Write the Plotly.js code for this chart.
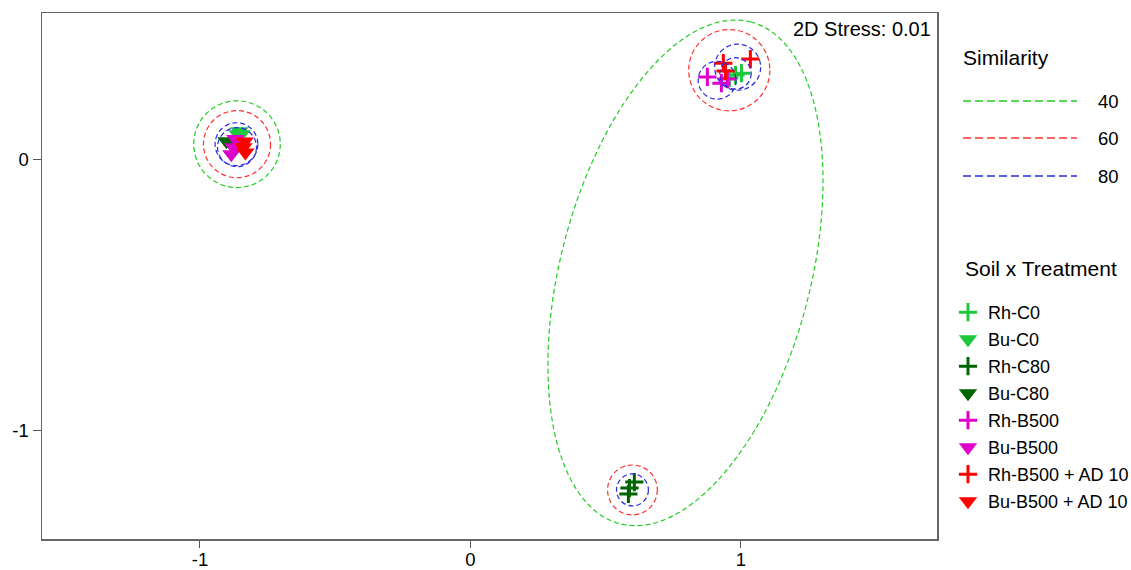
<!DOCTYPE html>
<html>
<head>
<meta charset="utf-8">
<script src="https://cdn.plot.ly/plotly-3.0.1.min.js"></script>
<style>html,body{margin:0;padding:0;background:#fff;}#chart{width:1131px;height:570px;}</style>
</head>
<body>
<div id="chart"></div>
<script>
// ---- data: NMDS coordinates per group ----
const groupNames = ["Rh-C0","Bu-C0","Rh-C80","Bu-C80","Rh-B500","Bu-B500","Rh-B500 + AD 10","Bu-B500 + AD 10"];
const groupColors = ["#1ec83c","#1ec83c","#006400","#006400","#dd00cc","#dd00cc","#ff0000","#ff0000"];
const groupSymbols = ["cross-thin","triangle-down","cross-thin","triangle-down","cross-thin","triangle-down","cross-thin","triangle-down"];

const rhC0_x = [1.002, 0.957, 0.980];
const rhC0_y = [0.317, 0.299, 0.310];
const buC0_x = [-0.854, -0.861, -0.847];
const buC0_y = [0.103, 0.092, 0.092];
const rhC80_x = [0.606, 0.588, 0.584];
const rhC80_y = [-1.192, -1.214, -1.236];
const buC80_x = [-0.902, -0.880, -0.865];
const buC80_y = [0.066, 0.059, 0.048];
const rhB500_x = [0.876, 0.928, 0.950];
const rhB500_y = [0.303, 0.280, 0.295];
const buB500_x = [-0.869, -0.884, -0.876];
const buB500_y = [0.074, 0.018, 0.044];
const rhAD_x = [1.035, 0.935, 0.943];
const rhAD_y = [0.369, 0.354, 0.325];
const buAD_x = [-0.835, -0.832, -0.839];
const buAD_y = [0.065, 0.024, 0.044];

const groupX = [rhC0_x, buC0_x, rhC80_x, buC80_x, rhB500_x, buB500_x, rhAD_x, buAD_x];
const groupY = [rhC0_y, buC0_y, rhC80_y, buC80_y, rhB500_y, buB500_y, rhAD_y, buAD_y];

// ---- similarity contours ----
const simLevels = [40, 60, 80];
const simColors = ["#22cc22", "#ff3030", "#2a2ae0"];
const circleLevel = [40, 60, 80, 80, 60, 80, 80, 80, 60, 80];
const circleCX = [-0.863, -0.863, -0.865, -0.863, 0.957, 0.912, 0.988, 0.980, 0.599, 0.599];
const circleCY = [0.055, 0.055, 0.055, 0.044, 0.328, 0.291, 0.339, 0.316, -1.221, -1.221];
const circleR  = [0.160, 0.124, 0.079, 0.072, 0.150, 0.070, 0.085, 0.058, 0.092, 0.059];
// enclosing 40% contour (ellipse): centre, semi-axes, rotation (deg)
const ellipseLevel = 40;
const ellipseCX = 0.795, ellipseCY = -0.420, ellipseA = 0.957, ellipseB = 0.462, ellipseAngle = 75.3;

const stressText = "2D Stress: 0.01";
const xTicks = [-1, 0, 1];
const yTicks = [0, -1];

const FONT = "'Liberation Sans', Arial, sans-serif";

const traces = groupNames.map((n, i) => {
  const isCross = groupSymbols[i] === "cross-thin";
  return {
    type: "scatter", mode: "markers", name: n, legendgroup: "g" + i,
    x: groupX[i], y: groupY[i],
    marker: isCross
      ? {symbol: "cross-thin", size: 13, color: groupColors[i], line: {color: groupColors[i], width: 3}}
      : {symbol: "triangle-down", size: 16, color: groupColors[i], line: {width: 0}},
    legend: "legend",
    hoverinfo: "x+y+name"
  };
});

function levelColor(l) { return simColors[simLevels.indexOf(l)]; }

const shapes = [];
for (let i = 0; i < circleR.length; i++) {
  shapes.push({
    type: "circle", xref: "x", yref: "y",
    x0: circleCX[i] - circleR[i], x1: circleCX[i] + circleR[i],
    y0: circleCY[i] - circleR[i], y1: circleCY[i] + circleR[i],
    line: {color: levelColor(circleLevel[i]), width: 1.2, dash: "5px,3px"}
  });
}
// ellipse path
(function(){
  const th = ellipseAngle * Math.PI / 180;
  let d = "";
  const N = 180;
  for (let k = 0; k <= N; k++) {
    const t = 2 * Math.PI * k / N;
    const px = ellipseCX + ellipseA * Math.cos(t) * Math.cos(th) - ellipseB * Math.sin(t) * Math.sin(th);
    const py = ellipseCY + ellipseA * Math.cos(t) * Math.sin(th) + ellipseB * Math.sin(t) * Math.cos(th);
    d += (k === 0 ? "M" : "L") + px.toFixed(4) + "," + py.toFixed(4);
  }
  d += "Z";
  shapes.push({type: "path", xref: "x", yref: "y", path: d,
    line: {color: levelColor(ellipseLevel), width: 1.2, dash: "5px,3px"}});
})();

// plot area in px: x 42..937, y 13..539
const L = 42, R = 937, T = 13, B = 539;
const px2x = p => (p - L) / (R - L);
const py2y = p => (B - p) / (B - T);

const annotations = [
  {text: stressText, xref: "paper", yref: "paper", x: px2x(933), y: py2y(29), xanchor: "right", yanchor: "middle",
   showarrow: false, font: {family: FONT, size: 20, color: "#000"}},
  {text: "Similarity", xref: "paper", yref: "paper", x: px2x(961), y: py2y(57), xanchor: "left", yanchor: "middle",
   showarrow: false, font: {family: FONT, size: 21, color: "#000"}},
  {text: "Soil x Treatment", xref: "paper", yref: "paper", x: px2x(963), y: py2y(268), xanchor: "left", yanchor: "middle",
   showarrow: false, font: {family: FONT, size: 21, color: "#000"}}
];
const simLineY = [101, 138, 176];
simLevels.forEach((l, i) => {
  shapes.push({type: "line", xref: "paper", yref: "paper",
    x0: px2x(963), x1: px2x(1077), y0: py2y(simLineY[i]), y1: py2y(simLineY[i]),
    line: {color: simColors[i], width: 1.5, dash: "8px,4px"}});
  annotations.push({text: String(l), xref: "paper", yref: "paper", x: px2x(1096), y: py2y(simLineY[i]),
    xanchor: "left", yanchor: "middle", showarrow: false, font: {family: FONT, size: 18.5, color: "#000"}});
});

const layout = {
  width: 1131, height: 570,
  margin: {l: L, r: 1131 - R, t: T, b: 570 - B, pad: 0, autoexpand: false},
  paper_bgcolor: "#fff", plot_bgcolor: "#fff",
  font: {family: FONT, color: "#000"},
  showlegend: true,
  legend: {x: px2x(948), xanchor: "left", y: py2y(294), yanchor: "top",
    font: {family: FONT, size: 18, color: "#000"}, bgcolor: "rgba(0,0,0,0)",
    itemsizing: "trace", traceorder: "grouped", tracegroupgap: 0.6},
  xaxis: {range: [-1.584, 1.725], tickvals: xTicks, ticktext: xTicks.map(String),
    ticks: "outside", ticklen: 7, tickwidth: 1, tickcolor: "#555", ticklabelstandoff: -4,
    showline: true, linecolor: "#666", linewidth: 1.5, mirror: true,
    showgrid: false, zeroline: false, tickfont: {family: FONT, size: 18.5, color: "#000"}},
  yaxis: {range: [-1.402, 0.539], tickvals: yTicks, ticktext: yTicks.map(String),
    ticks: "outside", ticklen: 8, tickwidth: 1, tickcolor: "#555",
    showline: true, linecolor: "#666", linewidth: 1.5, mirror: true,
    showgrid: false, zeroline: false, tickfont: {family: FONT, size: 18.5, color: "#000"}},
  shapes: shapes,
  annotations: annotations
};

Plotly.newPlot("chart", traces, layout, {displayModeBar: false, staticPlot: true});
</script>
</body>
</html>
